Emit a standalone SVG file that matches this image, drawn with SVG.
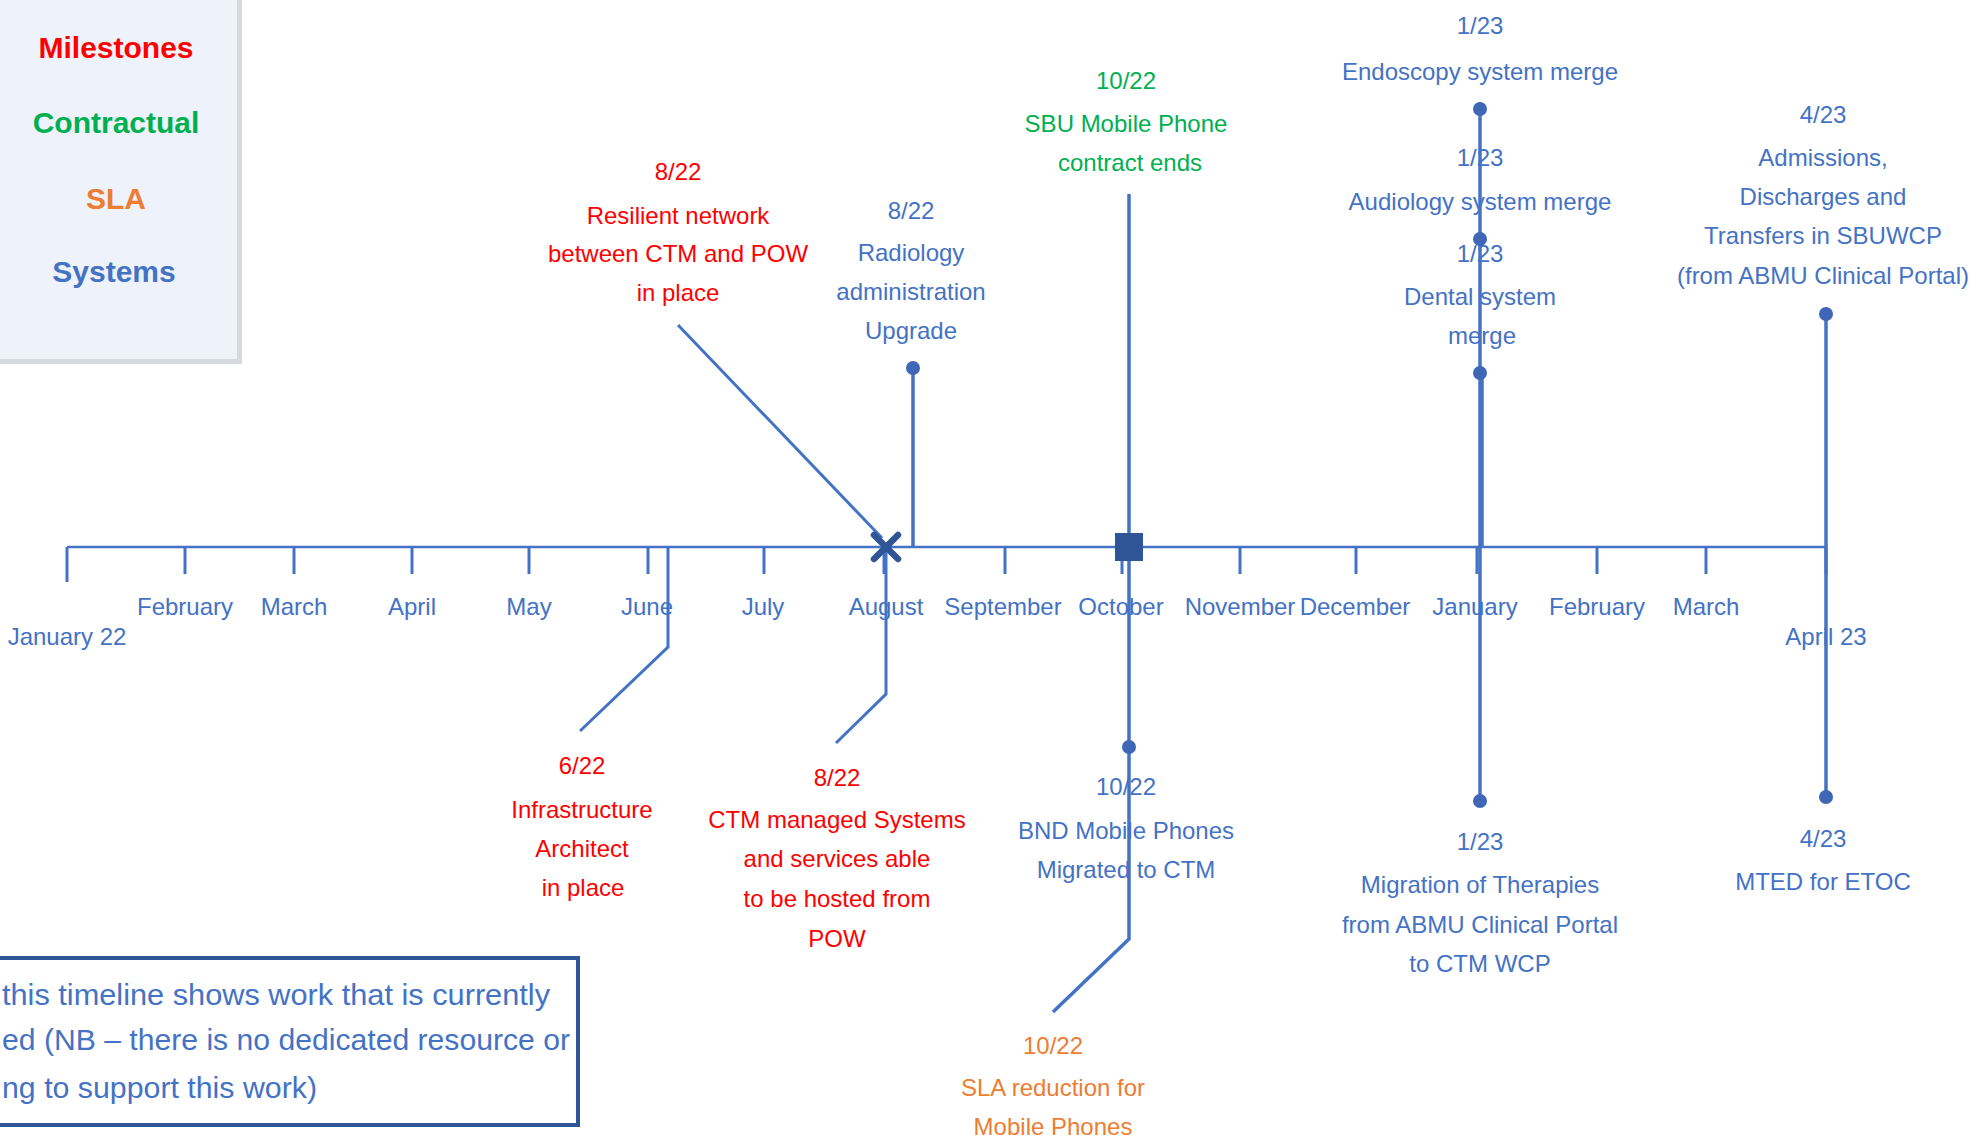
<svg xmlns="http://www.w3.org/2000/svg" width="1984" height="1137" viewBox="0 0 1984 1137">
<style>
.t{font-family:"Liberation Sans",Arial,sans-serif;font-size:24px;text-anchor:middle}
.lg{font-family:"Liberation Sans",Arial,sans-serif;font-size:30px;font-weight:bold;text-anchor:middle}
.nt{font-family:"Liberation Sans",Arial,sans-serif;font-size:30px;fill:#4472C4}
.blue{fill:#4472C4}.red{fill:#FF0000}.green{fill:#00B050}.orange{fill:#ED7D31}
.ax{stroke:#4472C4;stroke-width:2.5;fill:none}
.tk{stroke:#4472C4;stroke-width:3;fill:none}
.ln{stroke:#4472C4;stroke-width:3.5;fill:none}
.dg{stroke:#4472C4;stroke-width:3;fill:none}
.dot{fill:#3F67B5}
</style>
<rect width="1984" height="1137" fill="#FFFFFF"/>
<g id="legend">
<rect x="-10" y="-10" width="252" height="374" fill="#D6D9DE"/>
<rect x="-10" y="-10" width="247" height="369" fill="#EEF2FA"/>
<text class="lg red" x="116" y="58">Milestones</text>
<text class="lg green" x="116" y="133">Contractual</text>
<text class="lg orange" x="116" y="209">SLA</text>
<text class="lg blue" x="114" y="282">Systems</text>
</g>
<g id="axis">
<line class="ax" x1="67" y1="547" x2="1826" y2="547"/>
<line class="tk" x1="67" y1="547" x2="67" y2="582"/>
<line class="tk" x1="185" y1="547" x2="185" y2="574"/>
<line class="tk" x1="294" y1="547" x2="294" y2="574"/>
<line class="tk" x1="412" y1="547" x2="412" y2="574"/>
<line class="tk" x1="529" y1="547" x2="529" y2="574"/>
<line class="tk" x1="648" y1="547" x2="648" y2="574"/>
<line class="tk" x1="764" y1="547" x2="764" y2="574"/>
<line class="tk" x1="884" y1="547" x2="884" y2="574"/>
<line class="tk" x1="1005" y1="547" x2="1005" y2="574"/>
<line class="tk" x1="1122" y1="547" x2="1122" y2="574"/>
<line class="tk" x1="1240" y1="547" x2="1240" y2="574"/>
<line class="tk" x1="1356" y1="547" x2="1356" y2="574"/>
<line class="tk" x1="1477" y1="547" x2="1477" y2="574"/>
<line class="tk" x1="1597" y1="547" x2="1597" y2="574"/>
<line class="tk" x1="1706" y1="547" x2="1706" y2="574"/>
<line class="tk" x1="1826" y1="547" x2="1826" y2="574"/>
<text class="t blue" x="67" y="645">January 22</text>
<text class="t blue" x="185" y="615">February</text>
<text class="t blue" x="294" y="615">March</text>
<text class="t blue" x="412" y="615">April</text>
<text class="t blue" x="529" y="615">May</text>
<text class="t blue" x="647" y="615">June</text>
<text class="t blue" x="763" y="615">July</text>
<text class="t blue" x="886" y="615">August</text>
<text class="t blue" x="1003" y="615">September</text>
<text class="t blue" x="1121" y="615">October</text>
<text class="t blue" x="1240" y="615">November</text>
<text class="t blue" x="1355" y="615">December</text>
<text class="t blue" x="1475" y="615">January</text>
<text class="t blue" x="1597" y="615">February</text>
<text class="t blue" x="1706" y="615">March</text>
<text class="t blue" x="1826" y="645">April 23</text>
</g>
<g id="connectors">
<line class="dg" x1="678" y1="325" x2="882" y2="538"/>
<line class="ln" x1="913" y1="368" x2="913" y2="547"/>
<polyline class="dg" points="668,547 668,647 580,731"/>
<polyline class="dg" points="886,547 886,694 836,743"/>
<polyline class="ln" points="1129,194 1129,939 1053,1012"/>
<line class="ln" x1="1480" y1="109" x2="1480" y2="801"/>
<line class="ln" x1="1482" y1="373" x2="1482" y2="547"/>
<line class="ln" x1="1826" y1="314" x2="1826" y2="797"/>
</g>
<g id="marker-x">
<path d="M874,535 L898,559 M898,535 L874,559" stroke="#2F5597" stroke-width="6.5" stroke-linecap="round" fill="none"/>
</g>
<g id="marker-square">
<rect x="1115" y="533" width="28" height="28" fill="#2F5597"/>
</g>
<g id="ev-resilient">
<text class="t red" x="678" y="180">8/22</text>
<text class="t red" x="678" y="224">Resilient network</text>
<text class="t red" x="678" y="262">between CTM and POW</text>
<text class="t red" x="678" y="301">in place</text>
</g>
<g id="ev-radiology">
<circle class="dot" cx="913" cy="368" r="7"/>
<text class="t blue" x="911" y="219">8/22</text>
<text class="t blue" x="911" y="261">Radiology</text>
<text class="t blue" x="911" y="300">administration</text>
<text class="t blue" x="911" y="339">Upgrade</text>
</g>
<g id="ev-sbu">
<text class="t green" x="1126" y="89">10/22</text>
<text class="t green" x="1126" y="132">SBU Mobile Phone</text>
<text class="t green" x="1130" y="171">contract ends</text>
</g>
<g id="ev-endoscopy">
<circle class="dot" cx="1480" cy="109" r="7"/>
<text class="t blue" x="1480" y="34">1/23</text>
<text class="t blue" x="1480" y="80">Endoscopy system merge</text>
</g>
<g id="ev-audiology">
<circle class="dot" cx="1480" cy="239" r="7"/>
<text class="t blue" x="1480" y="166">1/23</text>
<text class="t blue" x="1480" y="210">Audiology system merge</text>
</g>
<g id="ev-dental">
<circle class="dot" cx="1480" cy="373" r="7"/>
<text class="t blue" x="1480" y="262">1/23</text>
<text class="t blue" x="1480" y="305">Dental system</text>
<text class="t blue" x="1482" y="344">merge</text>
</g>
<g id="ev-adt">
<circle class="dot" cx="1826" cy="314" r="7"/>
<text class="t blue" x="1823" y="123">4/23</text>
<text class="t blue" x="1823" y="166">Admissions,</text>
<text class="t blue" x="1823" y="205">Discharges and</text>
<text class="t blue" x="1823" y="244">Transfers in SBUWCP</text>
<text class="t blue" x="1823" y="284">(from ABMU Clinical Portal)</text>
</g>
<g id="ev-infrastructure">
<text class="t red" x="582" y="774">6/22</text>
<text class="t red" x="582" y="818">Infrastructure</text>
<text class="t red" x="582" y="857">Architect</text>
<text class="t red" x="583" y="896">in place</text>
</g>
<g id="ev-ctm-hosting">
<text class="t red" x="837" y="786">8/22</text>
<text class="t red" x="837" y="828">CTM managed Systems</text>
<text class="t red" x="837" y="867">and services able</text>
<text class="t red" x="837" y="907">to be hosted from</text>
<text class="t red" x="837" y="947">POW</text>
</g>
<g id="ev-bnd">
<circle class="dot" cx="1129" cy="747" r="7"/>
<text class="t blue" x="1126" y="795">10/22</text>
<text class="t blue" x="1126" y="839">BND Mobile Phones</text>
<text class="t blue" x="1126" y="878">Migrated to CTM</text>
</g>
<g id="ev-sla">
<text class="t orange" x="1053" y="1054">10/22</text>
<text class="t orange" x="1053" y="1096">SLA reduction for</text>
<text class="t orange" x="1053" y="1135">Mobile Phones</text>
</g>
<g id="ev-therapies">
<circle class="dot" cx="1480" cy="801" r="7"/>
<text class="t blue" x="1480" y="850">1/23</text>
<text class="t blue" x="1480" y="893">Migration of Therapies</text>
<text class="t blue" x="1480" y="933">from ABMU Clinical Portal</text>
<text class="t blue" x="1480" y="972">to CTM WCP</text>
</g>
<g id="ev-mted">
<circle class="dot" cx="1826" cy="797" r="7"/>
<text class="t blue" x="1823" y="847">4/23</text>
<text class="t blue" x="1823" y="890">MTED for ETOC</text>
</g>
<g id="note">
<rect x="-10" y="958" width="588" height="167" fill="#FFFFFF" stroke="#2F5597" stroke-width="4"/>
<text class="nt" x="2" y="1005" textLength="548" lengthAdjust="spacingAndGlyphs">this timeline shows work that is currently</text>
<text class="nt" x="2" y="1050" textLength="568" lengthAdjust="spacingAndGlyphs">ed (NB – there is no dedicated resource or</text>
<text class="nt" x="2" y="1098" textLength="315" lengthAdjust="spacingAndGlyphs">ng to support this work)</text>
</g>
</svg>
